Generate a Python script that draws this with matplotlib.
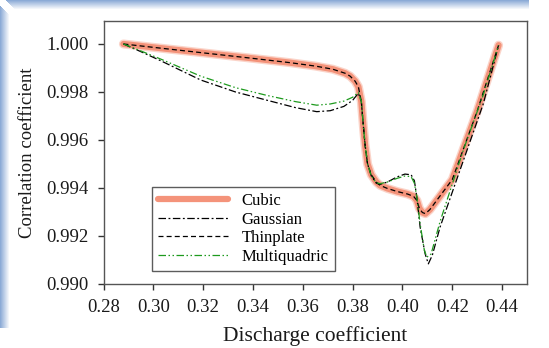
"""Correlation coefficient vs discharge coefficient for four RBF kernels."""
import matplotlib
matplotlib.use("Agg")
import matplotlib.pyplot as plt
from matplotlib.patches import Rectangle

plt.rcParams["font.family"] = ["Liberation Serif", "DejaVu Serif"]

# Cubic kernel
cubic_x = [0.288, 0.300, 0.320, 0.340, 0.355, 0.365, 0.372, 0.377, 0.379, 0.381,
           0.3823, 0.3835, 0.3843, 0.3850, 0.3860, 0.3875, 0.3895, 0.391, 0.394,
           0.398, 0.402, 0.4045, 0.4058, 0.4068, 0.408, 0.4092, 0.411, 0.420,
           0.430, 0.4386]
cubic_y = [1.00000, 0.99986, 0.99963, 0.99940, 0.99922, 0.99908, 0.99895, 0.99878,
           0.99866, 0.99845, 0.99822, 0.99760, 0.99660, 0.99580, 0.99500, 0.99455,
           0.99425, 0.99411, 0.99398, 0.99385, 0.99375, 0.99365, 0.99348, 0.99315,
           0.99298, 0.99293, 0.99310, 0.99435, 0.99720, 0.99995]

# Thin plate spline kernel
thin_x = cubic_x
thin_y = [1.00000, 0.99986, 0.99963, 0.99940, 0.99922, 0.99908, 0.99895, 0.99878,
          0.99866, 0.99845, 0.99822, 0.99760, 0.99660, 0.99580, 0.99500, 0.99455,
          0.99425, 0.99411, 0.99398, 0.99385, 0.99375, 0.99365, 0.99348, 0.99315,
          0.99298, 0.99293, 0.99310, 0.99435, 0.99720, 0.99995]

# Gaussian kernel
gauss_x = [0.288, 0.295, 0.303, 0.319, 0.333, 0.3455, 0.357, 0.3656, 0.371, 0.3765,
           0.380, 0.3823, 0.3835, 0.3843, 0.3850, 0.3860, 0.3875, 0.3895, 0.391,
           0.394, 0.3978, 0.4010, 0.4035, 0.4048, 0.4058, 0.4071, 0.4091, 0.4104,
           0.412, 0.4151, 0.4245, 0.4325, 0.4386]
gauss_y = [1.00000, 0.99968, 0.99930, 0.99850, 0.99800, 0.99766, 0.99735, 0.99718,
           0.99722, 0.99740, 0.99765, 0.99795, 0.99760, 0.99660, 0.99580, 0.99500,
           0.99450, 0.99420, 0.99415, 0.99425, 0.99446, 0.99458, 0.99455, 0.99430,
           0.99360, 0.99237, 0.99126, 0.99084, 0.99120, 0.99237, 0.99516, 0.99752,
           0.99995]

# Multiquadric kernel
mq_x = [0.288, 0.295, 0.303, 0.319, 0.333, 0.3455, 0.357, 0.3656, 0.371, 0.3765,
        0.380, 0.3823, 0.3835, 0.3843, 0.3850, 0.3860, 0.3875, 0.3895, 0.391,
        0.394, 0.3978, 0.4010, 0.4035, 0.4048, 0.4058, 0.4071, 0.4088, 0.4098,
        0.4115, 0.4151, 0.4245, 0.4325, 0.4386]
mq_y = [1.00000, 0.99971, 0.99937, 0.99866, 0.99818, 0.99786, 0.99760, 0.99745,
        0.99750, 0.99762, 0.99778, 0.99798, 0.99760, 0.99660, 0.99580, 0.99500,
        0.99450, 0.99422, 0.99418, 0.99425, 0.99440, 0.99450, 0.99447, 0.99420,
        0.99360, 0.99250, 0.99140, 0.99112, 0.99125, 0.99260, 0.99560, 0.99790,
        0.99995]

x_ticks = [0.28, 0.30, 0.32, 0.34, 0.36, 0.38, 0.40, 0.42, 0.44]
y_ticks = [0.990, 0.992, 0.994, 0.996, 0.998, 1.000]

W, H = 549, 348
fig = plt.figure(figsize=(W / 100, H / 100), dpi=100)
fig.patch.set_facecolor("white")

# soft blue strips along the top and left edges
edge = (0.55, 0.67, 0.84)
band = 9
for i in range(band):
    t = i / band
    c = tuple(e * (1 - t) + t for e in edge)
    fig.add_artist(Rectangle((i / W, 20 / H), 1 / W, 1 - (i + 26) / H,
                             transform=fig.transFigure, color=c, lw=0, zorder=-5))
    fig.add_artist(Rectangle(((i + 6) / W, 1 - (i + 1) / H), 1 - (i + 26) / W, 1 / H,
                             transform=fig.transFigure, color=c, lw=0, zorder=-5))

ax = fig.add_axes([103.5 / W, 1 - 284 / H, (527 - 103.5) / W, (284 - 20.7) / H])
# faint halo under the cubic curve
ax.plot(cubic_x, cubic_y, color="#f8b8a6", lw=6.5, alpha=0.6,
        solid_capstyle="round", zorder=1)
ax.plot(cubic_x, cubic_y, color="#f4937a", lw=4.5, solid_capstyle="round",
        label="Cubic", zorder=2)
ax.plot(gauss_x, gauss_y, color="black", lw=0.9, ls=(0, (6, 2, 1.5, 2)),
        label="Gaussian", zorder=3)
ax.plot(thin_x, thin_y, color="black", lw=0.9, ls=(0, (4, 2.5)),
        label="Thinplate", zorder=4)
ax.plot(mq_x, mq_y, color="#1e9a1e", lw=0.9, ls=(0, (6, 2, 1.2, 2, 1.2, 2)),
        label="Multiquadric", zorder=5)

ax.set_xlim(0.28, 0.45)
ax.set_ylim(0.990, 1.00097)
ax.set_xticks(x_ticks)
ax.set_xticklabels([f"{v:.2f}" for v in x_ticks])
ax.set_yticks(y_ticks)
ax.set_yticklabels([f"{v:.3f}" for v in y_ticks])
ax.tick_params(direction="out", length=4, width=1, labelsize=13.5,
               colors="#333333", labelcolor="#1a1a1a", pad=7)
for sp in ax.spines.values():
    sp.set_color("#555555")
    sp.set_linewidth(1)

ax.set_xlabel("Discharge coefficient", fontsize=15.5, color="#1a1a1a", labelpad=7)
ax.set_ylabel("Correlation coefficient", fontsize=13.5, color="#1a1a1a", labelpad=7)

leg = ax.legend(loc="upper left", bbox_to_anchor=(0.114, 0.37), borderaxespad=0,
                fontsize=12, handlelength=4.2, handletextpad=0.8, borderpad=0.4,
                labelspacing=0.15, fancybox=False, frameon=True)
leg.get_frame().set_edgecolor("#333333")
leg.get_frame().set_linewidth(1)

fig.savefig("out.png", dpi=100)
